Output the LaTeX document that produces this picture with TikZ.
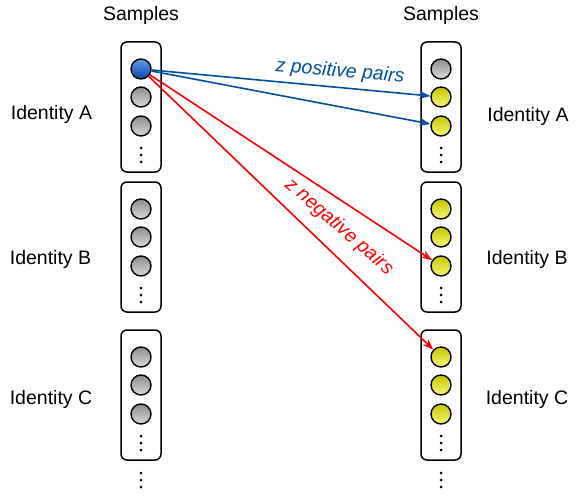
\documentclass[tikz,border=0pt]{standalone}
\usepackage{fontspec}
\setmainfont{Liberation Sans}
\usetikzlibrary{arrows.meta}
\definecolor{pblue}{RGB}{0,80,160}
\definecolor{nred}{RGB}{255,0,0}
\tikzset{
  samplebox/.style={draw, line width=1.5pt, rounded corners=6pt, minimum width=40pt, minimum height=130pt, inner sep=0pt},
  smp/.style={circle, draw, line width=1.4pt, minimum size=20pt, inner sep=0pt},
  grayball/.style={smp, top color={rgb,255:red,140;green,140;blue,140}, bottom color={rgb,255:red,218;green,218;blue,218}},
  blueball/.style={smp, top color={rgb,255:red,95;green,155;blue,235}, bottom color={rgb,255:red,10;green,70;blue,170}},
  yellowball/.style={smp, top color={rgb,255:red,200;green,200;blue,0}, bottom color={rgb,255:red,245;green,245;blue,120}},
  vdot/.style={circle, fill=black, inner sep=0pt, minimum size=3pt},
  lbl/.style={font=\fontsize{19.5}{23}\selectfont, inner sep=0pt, anchor=base},
  pairlbl/.style={font=\fontsize{19.5}{23}\selectfont\itshape, inner sep=0pt},
  posarrow/.style={draw=pblue, line width=1.6pt, -{Stealth[length=11pt,width=8pt]}},
  negarrow/.style={draw=nred, line width=1.6pt, -{Stealth[length=11pt,width=8pt]}}
}
\begin{document}
\begin{tikzpicture}[x=1pt,y=-1pt]
\useasboundingbox (0,0) rectangle (578,500);
% headers
\node[lbl] (hL) at (141,21) {Samples};
\node[lbl] (hR) at (441,21) {Samples};
% identity labels
\node[lbl] (idLA) at (51.5,120) {Identity A};
\node[lbl] (idLB) at (50.5,264) {Identity B};
\node[lbl] (idLC) at (51,404) {Identity C};
\node[lbl] (idRA) at (528,122) {Identity A};
\node[lbl] (idRB) at (527,264) {Identity B};
\node[lbl] (idRC) at (527,404) {Identity C};
% left column
\foreach \b/\t/\sa in {1/42/blueball, 2/182/grayball, 3/330/grayball} {
  \node[samplebox] (L\b) at (141,{\t+65}) {};
  \node[\sa] (L\b a) at (141,{\t+27}) {};
  \node[grayball] (L\b b) at (141,{\t+55}) {};
  \node[grayball] (L\b c) at (141,{\t+84}) {};
  \node[vdot] (L\b d1) at (141,{\t+106}) {};
  \node[vdot] (L\b d2) at (141,{\t+113}) {};
  \node[vdot] (L\b d3) at (141,{\t+120}) {};
}
% right column
\foreach \b/\t/\sa in {1/42/grayball, 2/182/yellowball, 3/330/yellowball} {
  \node[samplebox] (R\b) at (441,{\t+65}) {};
  \node[\sa] (R\b a) at (441,{\t+27}) {};
  \node[yellowball] (R\b b) at (441,{\t+55}) {};
  \node[yellowball] (R\b c) at (441,{\t+84}) {};
  \node[vdot] (R\b d1) at (441,{\t+106}) {};
  \node[vdot] (R\b d2) at (441,{\t+113}) {};
  \node[vdot] (R\b d3) at (441,{\t+120}) {};
}
% trailing dots
\foreach \c/\x in {L/141, R/441} {
  \node[vdot] (\c e1) at (\x,473) {};
  \node[vdot] (\c e2) at (\x,480) {};
  \node[vdot] (\c e3) at (\x,487) {};
}
% connectors
\draw[posarrow] (L1a) -- (R1b);
\draw[posarrow] (L1a) -- (R1c);
\draw[negarrow] (L1a) -- (R2c);
\draw[negarrow] (L1a) -- (R3a);
% pair labels
\node[pairlbl, text=pblue, rotate=-5] (poslbl) at (340,72) {z positive pairs};
\node[pairlbl, text=nred, rotate=-41] (neglbl) at (339,227) {z negative pairs};
\end{tikzpicture}
\end{document}
